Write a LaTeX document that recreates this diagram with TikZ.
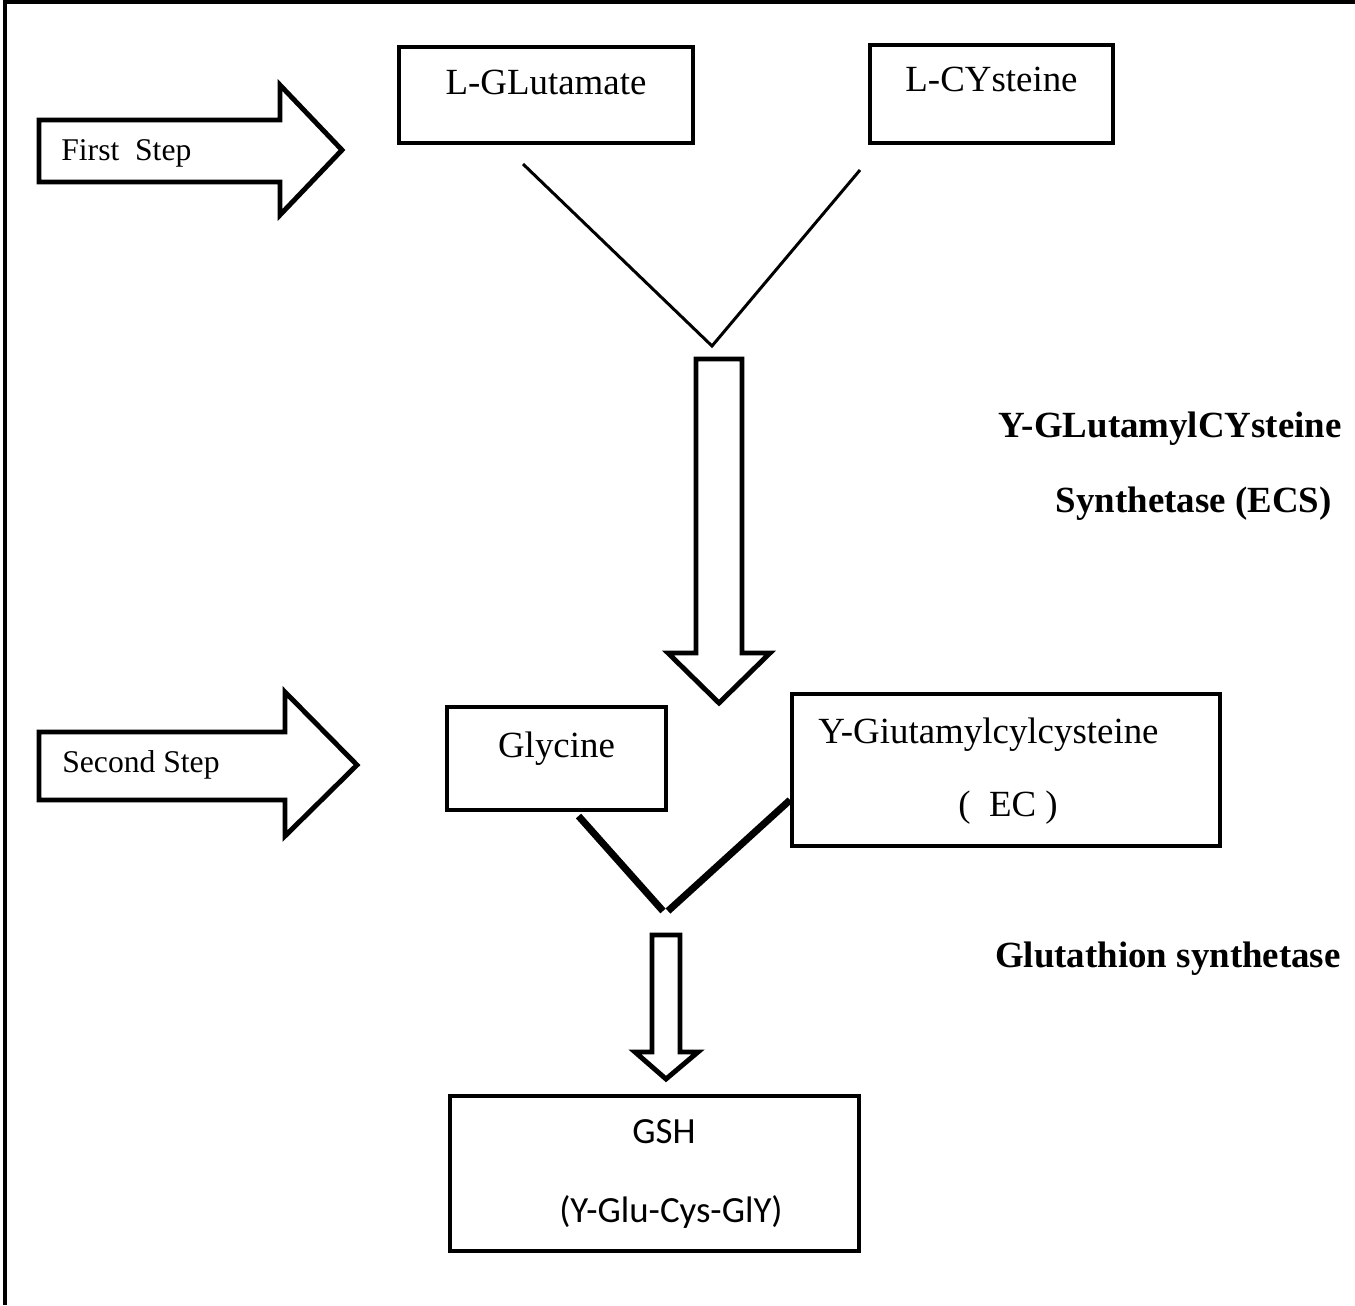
\documentclass[tikz,border=0pt]{standalone}
\usepackage{fontspec}
\setmainfont{Liberation Serif}
\newfontfamily\gshfont{Carlito}
\usetikzlibrary{calc}

\begin{document}
\begin{tikzpicture}[
    x=0.02cm, y=-0.02cm,
    % Estilos de cajas y textos
    chem_box/.style={rectangle, draw=black, line width=2.3pt, inner sep=0pt, font=\fontsize{21pt}{25pt}\selectfont},
    step_text/.style={anchor=base west, inner sep=0pt, font=\fontsize{18pt}{22pt}\selectfont},
    box_text/.style={anchor=base west, inner sep=0pt, font=\fontsize{21pt}{25pt}\selectfont},
    gsh_text/.style={anchor=base, inner sep=0pt, font=\gshfont\fontsize{21pt}{25pt}\selectfont},
    enzyme_text/.style={anchor=base east, inner sep=0pt, font=\fontsize{21pt}{25pt}\selectfont\bfseries},
    % Estilos de lineas y flechas
    fat_arrow/.style={draw=black, line width=2.8pt, line join=miter, fill=white},
    thin_join/.style={draw=black, line width=1.7pt},
    thick_join/.style={draw=black, line width=4pt}
]
\useasboundingbox (0,0) rectangle (1355,1305);

% --- marco ---
\draw[line width=2.3pt] (5,1305) -- (5,2) -- (1355,2);

% --- PRIMER PASO ---
\draw[fat_arrow] (39,120) -- (280,120) -- (280,85) -- (342,150) -- (280,215) -- (280,182) -- (39,182) -- cycle;
\node[step_text] (first_step) at (61,160) {First\ \ Step};

\node[chem_box, minimum width=5.88cm, text height=0.94cm, text depth=0.98cm] (glu) at (546,95) {L-GLutamate};
\node[chem_box, minimum width=4.86cm, text height=0.92cm, text depth=1.04cm] (cys) at (991.5,94) {L-CYsteine};

\coordinate (v1_left) at ($(glu.south)+(-23,19)$);
\coordinate (v1_right) at ($(cys.south west)+(-8,25)$);
\coordinate (v1_apex) at (712,346);
\draw[thin_join] (v1_left) -- (v1_apex) -- (v1_right);

\draw[fat_arrow] (696,359) -- (742,359) -- (742,653) -- (770,653) -- (719,703) -- (668,653) -- (696,653) -- cycle;

\node[enzyme_text] (ecs_name) at (1342,437) {Y-GLutamylCYsteine};
\node[enzyme_text] (ecs_abbr) at (1332,512) {Synthetase (ECS)};

% --- SEGUNDO PASO ---
\draw[fat_arrow] (39,732) -- (285,732) -- (285,692) -- (357,765) -- (285,836) -- (285,800) -- (39,800) -- cycle;
\node[step_text] (second_step) at (62,772) {Second Step};

\node[chem_box, minimum width=4.38cm, text height=1.0cm, text depth=1.06cm] (gly) at (556.5,758.5) {Glycine};
\node[chem_box, minimum width=8.56cm, minimum height=3.04cm] (ec) at (1006,770) {};
\node[box_text] (ec_name) at (818,743) {Y-Giutamylcylcysteine};
\node[box_text] (ec_abbr) at (958,816) {(\ \ EC )};

\coordinate (v2_left) at ($(gly.south)+(22,4)$);
\coordinate (v2_apex_l) at (663,911);
\coordinate (v2_apex_r) at (668,911);
\coordinate (v2_right) at ($(ec.west)+(0,30)$);
\draw[thick_join] (v2_left) -- (v2_apex_l);
\draw[thick_join] (v2_apex_r) -- (v2_right);

\draw[fat_arrow] (652,935) -- (680,935) -- (680,1052) -- (698,1052) -- (666,1079) -- (635,1052) -- (652,1052) -- cycle;

\node[enzyme_text] (gs_name) at (1341,967) {Glutathion synthetase};

% --- PRODUCTO ---
\node[chem_box, minimum width=8.18cm, minimum height=3.1cm] (gsh) at (654.5,1173.5) {};
\node[gsh_text] (gsh_name) at (664,1143) {GSH};
\node[gsh_text] (gsh_full) at (671,1222) {(Y-Glu-Cys-GlY)};

\end{tikzpicture}
\end{document}
